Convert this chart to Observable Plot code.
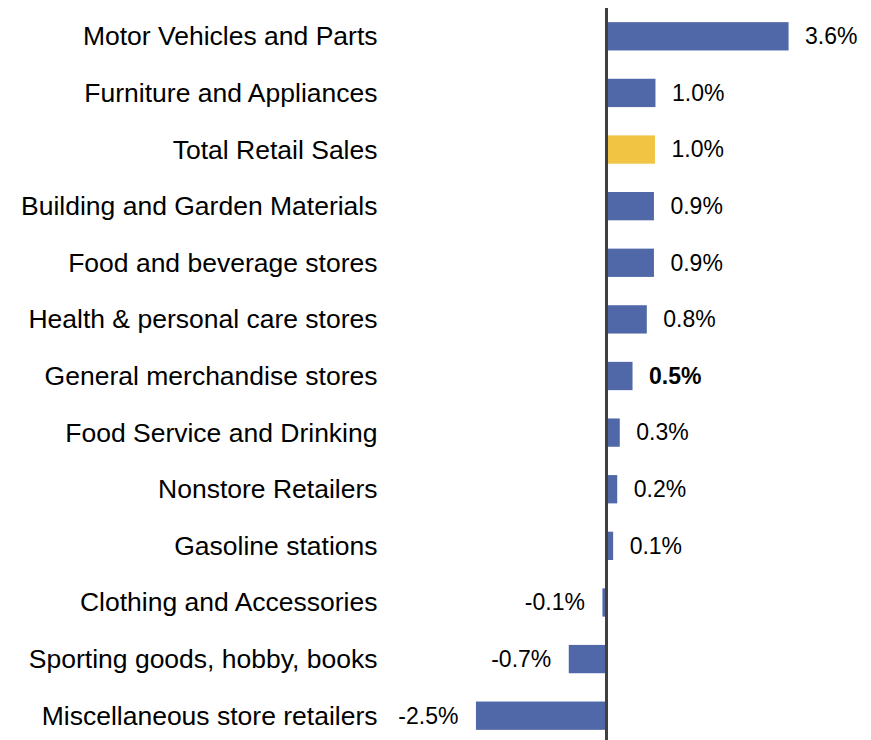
<!DOCTYPE html>
<html><head><meta charset="utf-8">
<script src="https://cdn.jsdelivr.net/npm/d3@7"></script>
<script src="https://cdn.jsdelivr.net/npm/@observablehq/plot@0.6"></script>
<style>html,body{margin:0;padding:0;background:#fff;overflow:hidden}</style>
</head><body><div id="chart"></div>
<script>
const categories = [
  "Motor Vehicles and Parts",
  "Furniture and Appliances",
  "Total Retail Sales",
  "Building and Garden Materials",
  "Food and beverage stores",
  "Health & personal care stores",
  "General merchandise stores",
  "Food Service and Drinking",
  "Nonstore Retailers",
  "Gasoline stations",
  "Clothing and Accessories",
  "Sporting goods, hobby, books",
  "Miscellaneous store retailers"
];
const values = [3.58, 0.97, 0.96, 0.94, 0.94, 0.80, 0.52, 0.27, 0.22, 0.14, -0.07, -0.73, -2.55];
const labels = ["3.6%", "1.0%", "1.0%", "0.9%", "0.9%", "0.8%", "0.5%", "0.3%", "0.2%", "0.1%", "-0.1%", "-0.7%", "-2.5%"];
const totalCategory = "Total Retail Sales";
const boldCategory = "General merchandise stores";

const data = categories.map((c, i) => ({category: c, value: values[i], label: labels[i]}));
const pos = data.filter(d => d.value >= 0);
const neg = data.filter(d => d.value < 0);

const plot = Plot.plot({
  width: 871,
  height: 744,
  marginTop: 8,
  marginBottom: 0,
  marginLeft: 402,
  marginRight: 61,
  style: {fontFamily: "'Liberation Sans', Arial, sans-serif", background: "white", color: "black"},
  x: {domain: [-4, 4], axis: null},
  y: {domain: categories, paddingInner: 0.5, paddingOuter: 0.25, round: false, axis: null},
  color: {type: "identity"},
  marks: [
    Plot.barX(data, {
      x: "value", y: "category",
      fill: d => d.category === totalCategory ? "#F2C444" : "#5068A8"
    }),
    Plot.ruleX([0], {stroke: "#404040", strokeWidth: 3}),
    Plot.axisY({tickSize: 0, tickPadding: 25, fontSize: 26.5, label: null, fill: "black"}),
    Plot.text(pos.filter(d => d.category !== boldCategory), {
      x: "value", y: "category", text: "label",
      textAnchor: "start", dx: 16, fontSize: 23, fill: "black"
    }),
    Plot.text(pos.filter(d => d.category === boldCategory), {
      x: "value", y: "category", text: "label",
      textAnchor: "start", dx: 16, fontSize: 23, fill: "black", fontWeight: "bold"
    }),
    Plot.text(neg, {
      x: "value", y: "category", text: "label",
      textAnchor: "end", dx: -18, fontSize: 23, fill: "black"
    })
  ]
});
document.getElementById("chart").appendChild(plot);
</script>
</body></html>
